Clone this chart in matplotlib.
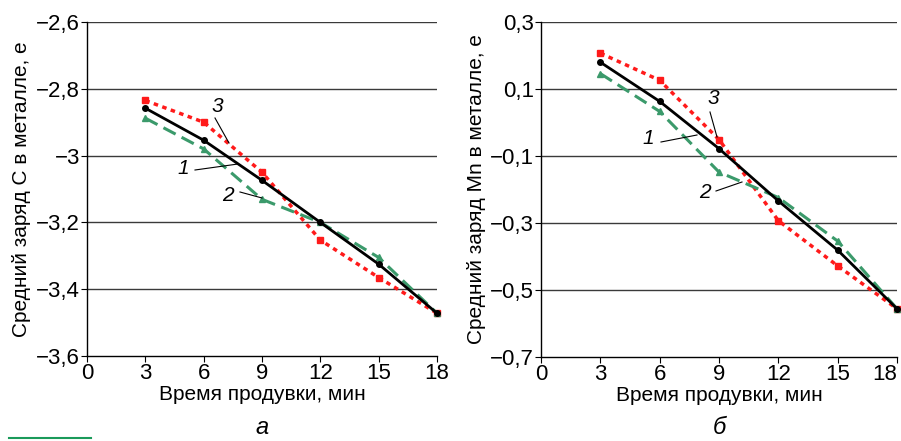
import matplotlib
matplotlib.use("Agg")
import matplotlib.pyplot as plt
from matplotlib import font_manager

# ---- data ----
time_min = [3, 6, 9, 12, 15, 18]
x_ticks = [0, 3, 6, 9, 12, 15, 18]

c_line1 = [-2.858, -2.954, -3.074, -3.200, -3.325, -3.472]
c_line2 = [-2.888, -2.980, -3.131, -3.200, -3.305, -3.472]
c_line3 = [-2.835, -2.900, -3.050, -3.253, -3.365, -3.472]
c_yticks = [-3.6, -3.4, -3.2, -3.0, -2.8, -2.6]
c_yticklabels = ["−3,6", "−3,4", "−3,2", "−3", "−2,8", "−2,6"]

mn_line1 = [0.180, 0.063, -0.078, -0.234, -0.381, -0.556]
mn_line2 = [0.146, 0.033, -0.148, -0.224, -0.354, -0.556]
mn_line3 = [0.207, 0.126, -0.051, -0.293, -0.428, -0.556]
mn_yticks = [-0.7, -0.5, -0.3, -0.1, 0.1, 0.3]
mn_yticklabels = ["−0,7", "−0,5", "−0,3", "−0,1", "0,1", "0,3"]

xlabel = "Время продувки, мин"
ylabel_c = "Средний заряд C в металле, е"
ylabel_mn = "Средний заряд Mn в металле, е"

names = {f.name for f in font_manager.fontManager.ttflist}
narrow = "Liberation Sans Narrow" if "Liberation Sans Narrow" in names else "Liberation Sans"
tick_family = [narrow, "DejaVu Sans"]
label_family = ["Liberation Sans", "DejaVu Sans"]

BLACK = "#000000"
GREEN = "#3b9a6b"
RED = "#ff1a1a"

fig = plt.figure(figsize=(9.01, 4.41), dpi=100)
ax1 = fig.add_axes([87 / 901, 1 - 356 / 441, 350 / 901, 334 / 441])
ax2 = fig.add_axes([541 / 901, 1 - 357 / 441, 356 / 901, 335 / 441])


def style(ax, yticks, yticklabels, ylim, ylabel, pad):
    ax.set_xlim(0, 18)
    ax.set_ylim(*ylim)
    ax.set_xticks(x_ticks)
    ax.set_xticklabels([str(v) for v in x_ticks], family=tick_family, fontsize=16)
    ax.set_yticks(yticks)
    ax.set_yticklabels(yticklabels, family=tick_family, fontsize=16)
    ax.tick_params(direction="out", length=4, width=0.8, pad=1)
    for s in ("top", "right"):
        ax.spines[s].set_visible(False)
    for s in ("left", "bottom"):
        ax.spines[s].set_linewidth(1.0)
    for y in yticks[1:]:
        ax.axhline(y, color="#3a3a3a", lw=1.0, zorder=1)
    ax.set_xlabel(xlabel, family=label_family, fontsize=15, labelpad=1)
    ax.set_ylabel(ylabel, family=label_family, fontsize=15, labelpad=pad)


def draw(ax, l1, l2, l3):
    ax.plot(time_min, l3, color=RED, lw=2.5, ls=(0, (1.3, 1.3)), marker="s",
            ms=5, zorder=3, clip_on=False)
    ax.plot(time_min, l2, color=GREEN, lw=2.2, ls=(0, (4.5, 2.2)), marker="^",
            ms=5, zorder=4, clip_on=False)
    ax.plot(time_min, l1, color=BLACK, lw=2.0, marker="o", ms=4,
            zorder=5, clip_on=False)


style(ax1, c_yticks, c_yticklabels, (-3.6, -2.6), ylabel_c, 4)
draw(ax1, c_line1, c_line2, c_line3)
style(ax2, mn_yticks, mn_yticklabels, (-0.7, 0.3), ylabel_mn, 3)
draw(ax2, mn_line1, mn_line2, mn_line3)
ax2.get_xticklabels()[-1].set_horizontalalignment("right")


def px(x, y):
    return (x / 901, 1 - y / 441)


def label(num, tpos, p0, p1):
    fig.text(*px(*tpos), num, fontsize=15, style="italic", family=label_family,
             ha="center", va="center")
    fig.add_artist(plt.Line2D([p0[0] / 901, p1[0] / 901],
                              [1 - p0[1] / 441, 1 - p1[1] / 441],
                              color="black", lw=0.8))


label("3", (217, 106), (215, 118), (229, 143))
label("1", (183, 168), (195, 170), (238, 164))
label("2", (228, 195), (240, 192), (262, 198))

label("3", (713, 99), (710, 112), (717, 137))
label("1", (648, 138), (661, 142), (697, 135))
label("2", (705, 193), (716, 191), (742, 182))

fig.text(*px(262, 428), "а", fontsize=17, style="italic", family=label_family,
         ha="center", va="center")
fig.text(*px(719, 428), "б", fontsize=17, style="italic", family=label_family,
         ha="center", va="center")

fig.add_artist(plt.Line2D([9 / 901, 91 / 901], [1 - 438 / 441, 1 - 438 / 441],
                          color="#1a9a5a", lw=1.5))

fig.savefig("out.png", dpi=100)
